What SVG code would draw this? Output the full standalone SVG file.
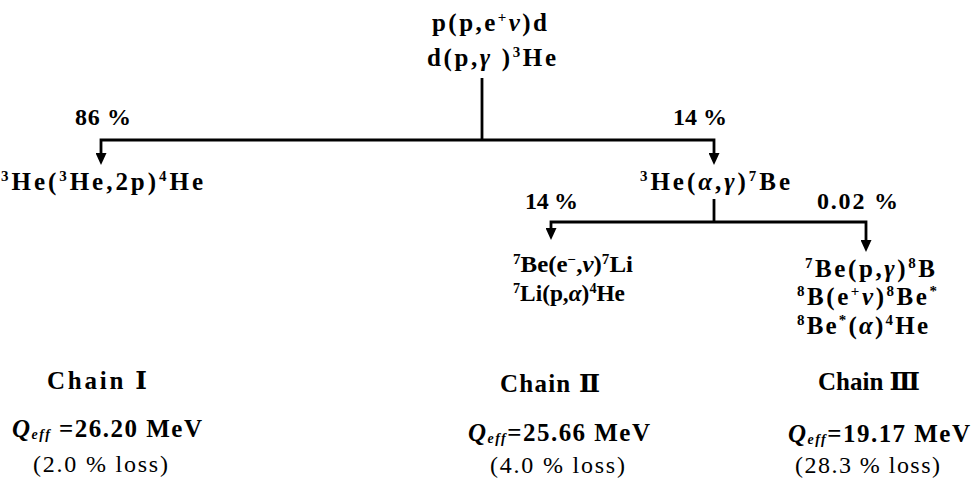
<svg xmlns="http://www.w3.org/2000/svg" width="972" height="483" viewBox="0 0 972 483">
  <defs>
    <!-- solid arrowhead pointing along the path direction -->
    <marker id="arrow" viewBox="0 0 12 11" refX="7" refY="5.5" markerWidth="12" markerHeight="11" markerUnits="userSpaceOnUse" orient="auto-start-reverse">
      <path d="M0,0 L12,5.5 L0,11 Z" fill="#000"/>
    </marker>
    <style>
      text { font-family: "Liberation Serif", "DejaVu Serif", serif; font-size: 25px; font-weight: bold; fill: #000; }
      .pct { font-size: 24px; }
      .tight { font-size: 23px; }
      .chain { font-size: 25px; }
      .q { font-size: 25px; }
      .loss { font-size: 24px; font-weight: normal; }
      .sup { font-size: 15px; baseline-shift: 9px; }
      .tight .sup { font-size: 14px; baseline-shift: 8px; }
      .sub { font-size: 14px; font-style: italic; baseline-shift: -2px; }
      .it { font-style: italic; }
      .link { fill: none; stroke: #000; stroke-width: 2.8; }
      .arrowed { marker-start: url(#arrow); marker-end: url(#arrow); }
    </style>
  </defs>

  <g id="connectors">
    <!-- split after the deuterium steps -->
    <line class="link" x1="482" y1="78" x2="482" y2="140"/>
    <path class="link arrowed" d="M101,160 V140 H714 V160"/>
    <!-- split after 7Be production -->
    <line class="link" x1="714" y1="199" x2="714" y2="222"/>
    <path class="link arrowed" d="M551,235 V222 H866 V247"/>
  </g>

  <g id="pp-start">
    <text x="432" y="31" textLength="115" lengthAdjust="spacing">p(p,e<tspan class="sup">+</tspan><tspan class="it">ν</tspan>)d</text>
    <text x="427" y="66" textLength="129" lengthAdjust="spacing">d(p,<tspan class="it">γ</tspan> )<tspan class="sup">3</tspan>He</text>
  </g>

  <g id="branch-86">
    <text class="pct" x="75" y="125" textLength="56" lengthAdjust="spacing">86 %</text>
  </g>
  <g id="branch-14a">
    <text class="pct" x="673" y="125" textLength="54" lengthAdjust="spacing">14 %</text>
  </g>

  <g id="he3-he3">
    <text x="1" y="190" textLength="202" lengthAdjust="spacing"><tspan class="sup">3</tspan>He(<tspan class="sup">3</tspan>He,2p)<tspan class="sup">4</tspan>He</text>
  </g>

  <g id="he3-alpha">
    <text x="640" y="190" textLength="150" lengthAdjust="spacing"><tspan class="sup">3</tspan>He(<tspan class="it">α</tspan>,<tspan class="it">γ</tspan>)<tspan class="sup">7</tspan>Be</text>
  </g>

  <g id="branch-14b">
    <text class="pct" x="525" y="209" textLength="53" lengthAdjust="spacing">14 %</text>
  </g>
  <g id="branch-002">
    <text class="pct" x="817" y="209" font-weight="normal" textLength="81" lengthAdjust="spacing">0.02 %</text>
  </g>

  <g id="be7-capture">
    <text class="tight" x="513" y="272" textLength="120" lengthAdjust="spacingAndGlyphs"><tspan class="sup">7</tspan>Be(e<tspan class="sup">−</tspan>,<tspan class="it">ν</tspan>)<tspan class="sup">7</tspan>Li</text>
    <text class="tight" x="513" y="301" textLength="112" lengthAdjust="spacingAndGlyphs"><tspan class="sup">7</tspan>Li(p,<tspan class="it">α</tspan>)<tspan class="sup">4</tspan>He</text>
  </g>

  <g id="be7-proton">
    <text x="805" y="277" textLength="130" lengthAdjust="spacing"><tspan class="sup">7</tspan>Be(p,<tspan class="it">γ</tspan>)<tspan class="sup">8</tspan>B</text>
    <text x="797" y="305" textLength="140" lengthAdjust="spacing"><tspan class="sup">8</tspan>B(e<tspan class="sup">+</tspan><tspan class="it">ν</tspan>)<tspan class="sup">8</tspan>Be<tspan class="sup">*</tspan></text>
    <text x="797" y="334" textLength="131" lengthAdjust="spacing"><tspan class="sup">8</tspan>Be<tspan class="sup">*</tspan>(<tspan class="it">α</tspan>)<tspan class="sup">4</tspan>He</text>
  </g>

  <g id="chain-1">
    <text class="chain" x="47" y="389" textLength="100" lengthAdjust="spacing">Chain  Ⅰ</text>
    <text class="q" x="12" y="437" textLength="190" lengthAdjust="spacing"><tspan class="it">Q</tspan><tspan class="sub">eff</tspan> =26.20 MeV</text>
    <text class="loss" x="33" y="472" textLength="135" lengthAdjust="spacing">(2.0 % loss)</text>
  </g>

  <g id="chain-2">
    <text class="chain" x="500" y="392" textLength="100" lengthAdjust="spacing">Chain  Ⅱ</text>
    <text class="q" x="468" y="441" textLength="182" lengthAdjust="spacing"><tspan class="it">Q</tspan><tspan class="sub">eff</tspan>=25.66 MeV</text>
    <text class="loss" x="490" y="473" textLength="135" lengthAdjust="spacing">(4.0 % loss)</text>
  </g>

  <g id="chain-3">
    <text class="chain" x="818" y="390" textLength="102" lengthAdjust="spacing">Chain  Ⅲ</text>
    <text class="q" x="788" y="442" textLength="182" lengthAdjust="spacing"><tspan class="it">Q</tspan><tspan class="sub">eff</tspan>=19.17 MeV</text>
    <text class="loss" x="795" y="473" textLength="145" lengthAdjust="spacing">(28.3 % loss)</text>
  </g>
</svg>
